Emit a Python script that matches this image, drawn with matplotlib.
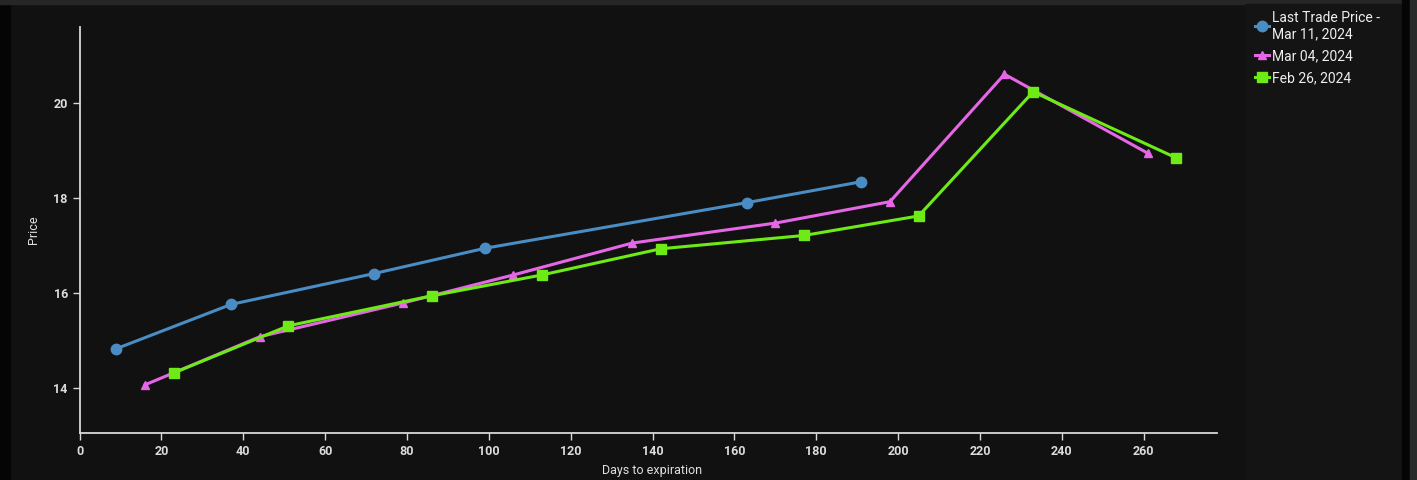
import matplotlib
matplotlib.use("Agg")
import matplotlib.pyplot as plt
from matplotlib.patches import Rectangle

# days to expiration / price
days_mar11 = [9, 37, 72, 99, 163, 191]
price_mar11 = [14.83, 15.76, 16.41, 16.94, 17.90, 18.34]

days_mar04 = [16, 44, 79, 106, 135, 170, 198, 226, 261]
price_mar04 = [14.07, 15.08, 15.79, 16.38, 17.05, 17.47, 17.92, 20.60, 18.94]

days_feb26 = [23, 51, 86, 113, 142, 177, 205, 233, 268]
price_feb26 = [14.32, 15.31, 15.94, 16.38, 16.93, 17.21, 17.62, 20.23, 18.84]

labels = ["Last Trade Price -\nMar 11, 2024", "Mar 04, 2024", "Feb 26, 2024"]
x_ticks = list(range(0, 261, 20))
y_ticks = [14, 16, 18, 20]

plt.rcParams['font.family'] = ['Roboto', 'DejaVu Sans']

W, H = 1417, 480
fig = plt.figure(figsize=(W / 100, H / 100), dpi=100, facecolor="#111111")

# page chrome around the chart
fig.patches.append(Rectangle((0, 0), 10 / W, 1, transform=fig.transFigure, color="#050505", zorder=-5))
fig.patches.append(Rectangle((0, 1 - 4 / H), 1, 4 / H, transform=fig.transFigure, color="#262626", zorder=-4))
fig.patches.append(Rectangle((1245 / W, 0), 157 / W, 1 - 4 / H, transform=fig.transFigure, color="#141414", zorder=-4))
fig.patches.append(Rectangle((1402 / W, 0), 8 / W, 1, transform=fig.transFigure, color="#050505", zorder=-4))
fig.patches.append(Rectangle((1410 / W, 0), 7 / W, 1, transform=fig.transFigure, color="#2a2a2a", zorder=-4))

ax = fig.add_axes([79.6 / W, 46.7 / H, (1217.3 - 79.6) / W, (433.3 - 26.7) / H])
ax.set_facecolor("#111111")

l1, = ax.plot(days_mar11, price_mar11, color="#4a8cc4", lw=2.2, marker="o", ms=7.5)
l2, = ax.plot(days_mar04, price_mar04, color="#e667e6", lw=2.2, marker="^", ms=6)
l3, = ax.plot(days_feb26, price_feb26, color="#6eea16", lw=2.2, marker="s", ms=7)

ax.set_xlim(0, 278)
ax.set_ylim(13.05, 21.6)
ax.set_xticks(x_ticks)
ax.set_yticks(y_ticks)

for side in ["top", "right"]:
    ax.spines[side].set_visible(False)
for side in ["left", "bottom"]:
    ax.spines[side].set_color("#d8d8d8")
    ax.spines[side].set_linewidth(1.3)

ax.tick_params(colors="#d8d8d8", labelcolor="#dcdcdc", labelsize=9, length=5, width=1)
for t in ax.get_xticklabels() + ax.get_yticklabels():
    t.set_fontweight("bold")

ax.set_xlabel("Days to expiration", color="#e0e0e0", fontsize=9, labelpad=4, x=0.503)
ax.set_ylabel("Price", color="#e0e0e0", fontsize=9, labelpad=10)

fig.legend([l1, l2, l3], labels, loc="upper left", bbox_to_anchor=(1245 / W, 1 - 1 / H),
           frameon=False, fontsize=10, labelcolor="#eeeeee", handlelength=1.0,
           handletextpad=0.25, labelspacing=0.58, borderaxespad=0.3)

fig.savefig("out.png", dpi=100, facecolor=fig.get_facecolor())
